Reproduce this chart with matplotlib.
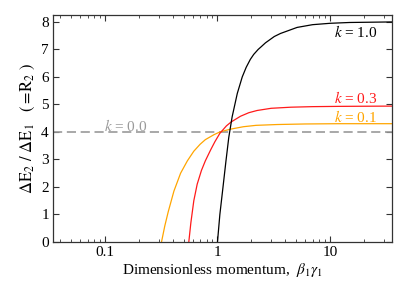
import numpy as np
import matplotlib
matplotlib.use("Agg")
import matplotlib.pyplot as plt
from matplotlib.ticker import LogLocator, NullFormatter

plt.rcParams['font.family'] = ['Liberation Serif', 'DejaVu Serif']
plt.rcParams['mathtext.fontset'] = 'stix'
plt.rcParams['font.size'] = 11

# values
k10_x = [1.0, 1.05, 1.12, 1.19, 1.26, 1.35, 1.5, 1.66, 1.8, 1.96, 2.1, 2.3, 2.45, 2.67, 3.2, 3.63, 5.1, 7.0, 10, 15, 36]
k10_y = [0, 1.0, 2.0, 2.95, 3.8, 4.55, 5.4, 6.0, 6.35, 6.64, 6.82, 7.0, 7.1, 7.24, 7.47, 7.58, 7.8, 7.9, 7.95, 7.98, 8.0]

k03_x = [0.556, 0.58, 0.616, 0.66, 0.72, 0.78, 0.87, 0.95, 1.05, 1.2, 1.32, 1.6, 1.9, 2.25, 3.0, 4.5, 7, 12, 36]
k03_y = [0, 0.7, 1.5, 2.1, 2.6, 2.95, 3.35, 3.65, 3.95, 4.22, 4.36, 4.57, 4.70, 4.78, 4.86, 4.9, 4.92, 4.93, 4.94]

k01_x = [0.318, 0.34, 0.365, 0.41, 0.47, 0.54, 0.616, 0.7, 0.78, 0.93, 1.05, 1.3, 1.7, 2.2, 3.4, 6, 12, 36]
k01_y = [0, 0.58, 1.1, 1.85, 2.5, 2.95, 3.3, 3.55, 3.72, 3.9, 4.0, 4.1, 4.19, 4.24, 4.27, 4.29, 4.3, 4.3]

k00_y = 4.0

fig = plt.figure(figsize=(4.0, 2.84), dpi=100)
ax = fig.add_axes([0.1325, 0.148, 0.8475, 0.799])

ax.axhline(k00_y, color='#9a9a9a', lw=1.2, dashes=(5.5, 2.8))
ax.plot(k01_x, k01_y, color='#ffa500', lw=0.9)
ax.plot(k03_x, k03_y, color='#ff1a1a', lw=0.9)
ax.plot(k10_x, k10_y, color='black', lw=0.9)

ax.text(26.4, 7.64, r'$k$ = 1.0', color='black', ha='right', va='center')
ax.text(26.4, 5.22, r'$k$ = 0.3', color='#ff1a1a', ha='right', va='center')
ax.text(26.4, 4.55, r'$k$ = 0.1', color='#ffa500', ha='right', va='center')
ax.text(0.097, 4.22, r'$k$ = 0.0', color='#9a9a9a', ha='left', va='center')

ax.set_xscale('log')
ax.set_xlim(0.0345, 35.6)
ax.set_ylim(0, 8.25)
ax.set_xticks([0.1, 1, 10])
ax.set_xticklabels(['0.1', '1', '10'])
ax.xaxis.set_minor_locator(LogLocator(base=10, subs=np.arange(2, 10), numticks=20))
ax.xaxis.set_minor_formatter(NullFormatter())
ax.set_yticks(range(0, 9))

ax.tick_params(which='both', direction='in', top=True, right=True, colors='#333333', labelcolor='black')
ax.tick_params(which='major', length=4, width=0.8, pad=3)
ax.tick_params(which='minor', length=2, width=0.6)
for s in ax.spines.values():
    s.set_color('#333333')
    s.set_linewidth(0.9)

ax.set_xlabel(r'Dimensionless momentum,  $\beta_1\gamma_1$', labelpad=1)
ax.set_ylabel(r'$\Delta\mathrm{E}_2\ /\ \Delta\mathrm{E}_1\quad(=\!\mathrm{R}_2\ )$', fontsize=12, labelpad=3)

fig.savefig('out.png', dpi=100)
